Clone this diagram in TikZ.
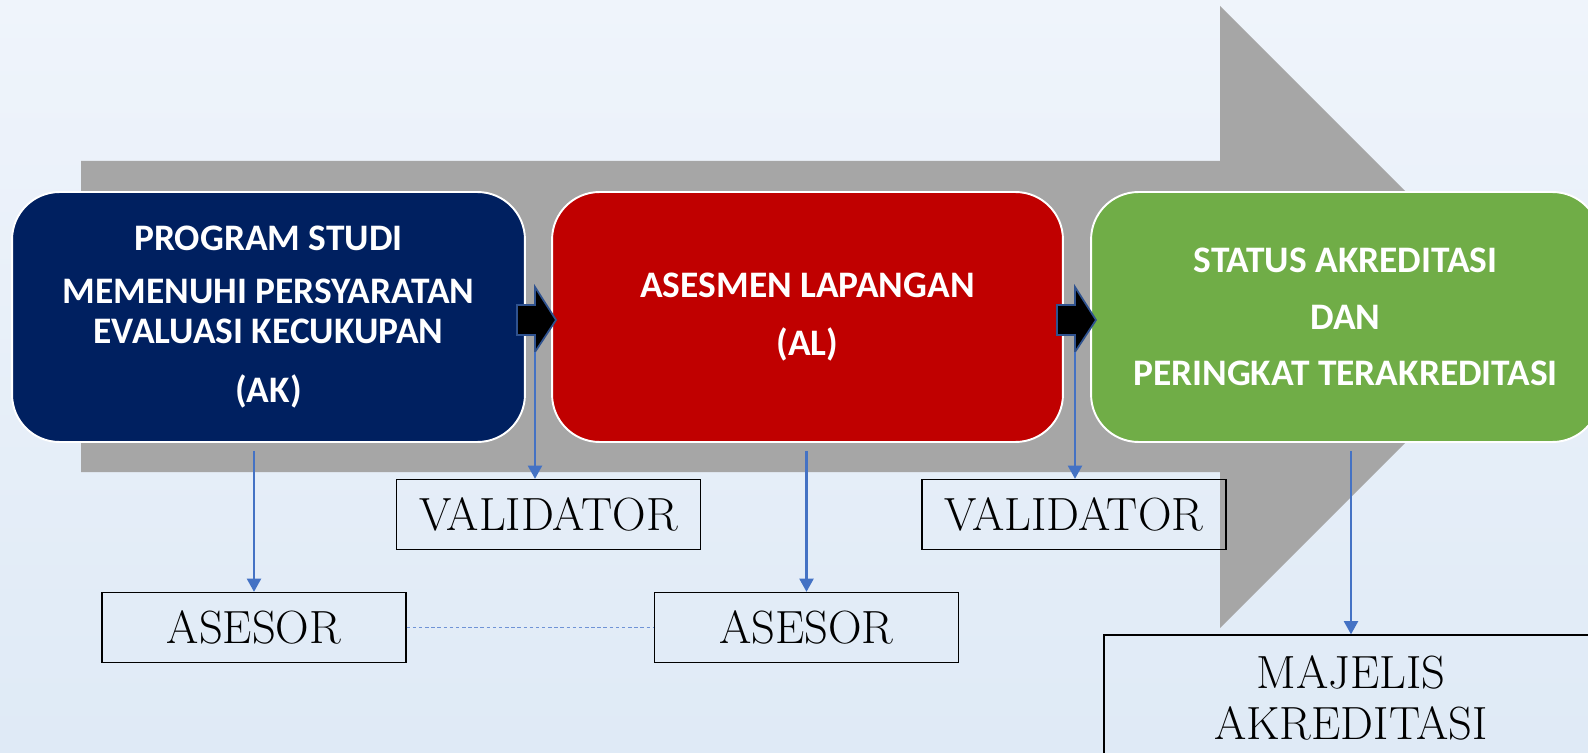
\documentclass[tikz,border=0pt]{standalone}
\usepackage{fontspec}
\usepackage{tikz}
\usetikzlibrary{arrows.meta}
\usepackage{xcolor}
\newfontfamily\carlito{Carlito}

\definecolor{navy}{HTML}{002060}
\definecolor{crimson}{HTML}{C00000}
\definecolor{leaf}{HTML}{70AD47}
\definecolor{shaft}{HTML}{A6A6A6}
\definecolor{linkblue}{HTML}{4472C4}
\definecolor{edgeblue}{HTML}{2F528F}
\definecolor{dotblue}{HTML}{6F93D6}
\definecolor{bgtop}{HTML}{EFF4FB}
\definecolor{bgbot}{HTML}{DFEAF6}

\begin{document}
\begin{tikzpicture}[x=0.02cm, y=-0.02cm,
    stage/.style={draw=white, line width=1.1pt, rounded corners=0.95cm,
      minimum height=5cm, text=white, align=center,
      font=\carlito\bfseries\fontsize{21.3}{22.7}\selectfont},
    role/.style={draw=black, line width=0.8pt, minimum width=6.08cm,
      minimum height=1.4cm, align=center, font=\fontsize{26.5}{29}\selectfont},
    link/.style={draw=linkblue, line width=1.2pt, -{Triangle[width=8pt,length=7.5pt]}},
    blockarrow/.style={fill=black, draw=edgeblue, line width=1pt, line join=miter},
  ]
  \useasboundingbox (0,0) rectangle (1588,753);
  \fill[top color=bgtop, bottom color=bgbot] (0,0) rectangle (1588,753);

  % big grey arrow behind the stages
  \fill[shaft] (81,161) -- (1220,161) -- (1220,6) -- (1531,317)
    -- (1220,628) -- (1220,472) -- (81,472) -- cycle;

  \node[stage, fill=navy, minimum width=10.26cm] (ak) at (268.5,317)
    {PROGRAM STUDI\\[7.5pt] MEMENUHI PERSYARATAN\\ EVALUASI KECUKUPAN\\[10.5pt] (AK)};
  \node[stage, fill=crimson, minimum width=10.22cm] (al) at (807.5,317)
    {ASESMEN LAPANGAN\\[10pt] (AL)};
  \node[stage, fill=leaf, minimum width=10.18cm] (status) at (1345.5,317)
    {STATUS AKREDITASI\\[9.6pt] DAN\\[9.6pt] PERINGKAT TERAKREDITASI};

  \draw[blockarrow] (517,305) -- (535,305) -- (535,287) -- (556,320)
    -- (535,352) -- (535,335) -- (517,335) -- cycle;
  \coordinate (foot1) at (535,352);
  \draw[blockarrow] (1057,305) -- (1075,305) -- (1075,287) -- (1096,320)
    -- (1075,352) -- (1075,335) -- (1057,335) -- cycle;
  \coordinate (foot2) at (1075,352);

  \node[role] (val1) at (548.5,514.5) {VALIDATOR};
  \node[role] (val2) at (1074,514.5) {VALIDATOR};
  \node[role] (as1) at (254,627.5) {ASESOR};
  \node[role] (as2) at (806.5,627.5) {ASESOR};
  \node[role, minimum width=9.88cm, minimum height=2.5cm] (majelis) at (1351,697.5)
    {MAJELIS\\AKREDITASI};

  \draw[link] (foot1) -- (foot1 |- val1.north);
  \draw[link] (foot2) -- (foot2 |- val2.north);
  \draw[link] ([yshift=-0.16cm]as1.north |- ak.south) -- (as1.north);
  \draw[link] ([yshift=-0.16cm]as2.north |- al.south) -- (as2.north);
  \draw[link] ([yshift=-0.16cm]majelis.north |- status.south) -- (majelis.north);

  \draw[draw=dotblue, line width=0.7pt, dash pattern=on 2pt off 1.5pt] (as1.east) -- (as2.west);
\end{tikzpicture}
\end{document}
